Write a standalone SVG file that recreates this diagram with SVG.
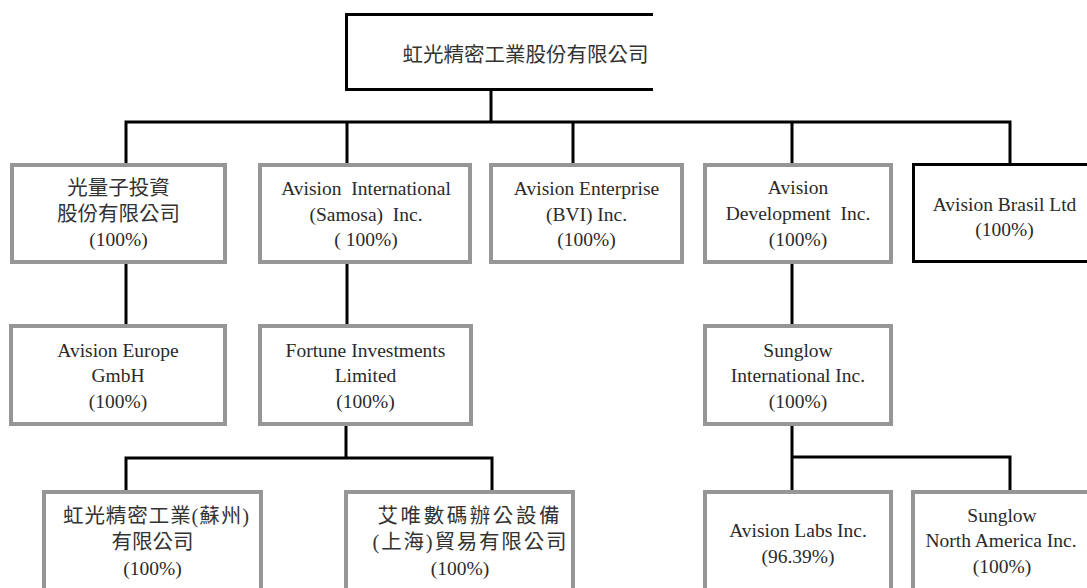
<svg xmlns="http://www.w3.org/2000/svg" width="1087" height="588" viewBox="0 0 1087 588">
<style>
.bg{fill:#ffffff}
.gbox{fill:#ffffff;stroke:#969696;stroke-width:4}
.kbox{fill:none;stroke:#000000;stroke-width:3}
.conn{fill:none;stroke:#000000;stroke-width:3}
text{font-family:"Liberation Serif","Noto Sans CJK TC",serif;font-size:19.5px;fill:#2a2a2a;text-anchor:middle}
.cjk{font-size:20.5px;fill:#333333}
</style>
<rect class="bg" x="0" y="0" width="1087" height="588"/>
<g id="connectors">
<path class="conn" d="M491,90 V122 M124.5,122 H1011.5 M126,122 V163 M347,122 V163 M573,122 V163 M792,122 V163 M1010,122 V163"/>
<path class="conn" d="M126,264 V324 M347,264 V324 M792,264 V324"/>
<path class="conn" d="M346,426 V458 M124.5,458 H493.5 M126,458 V490 M492,458 V490"/>
<path class="conn" d="M792,426 V457 M790.5,457 H1011.5 M792,457 V490 M1010,457 V490"/>
</g>
<g id="n-root">
<path class="kbox" d="M653,14.5 H346.5 V89.5 H653"/>
<text class="cjk" x="525.5" y="61.5">虹光精密工業股份有限公司</text>
</g>
<g id="n-quantum">
<rect class="gbox" x="12" y="165" width="213" height="97"/>
<text class="cjk" x="118.5" y="195">光量子投資</text>
<text class="cjk" x="118.5" y="221">股份有限公司</text>
<text x="118.5" y="246">(100%)</text>
</g>
<g id="n-samosa">
<rect class="gbox" x="260" y="165" width="210" height="97"/>
<text x="366" y="195" xml:space="preserve">Avision  International</text>
<text x="366" y="221" xml:space="preserve">(Samosa)  Inc.</text>
<text x="366" y="246">( 100%)</text>
</g>
<g id="n-bvi">
<rect class="gbox" x="491" y="165" width="191" height="97"/>
<text x="586.5" y="195">Avision Enterprise</text>
<text x="586.5" y="221">(BVI) Inc.</text>
<text x="586.5" y="246">(100%)</text>
</g>
<g id="n-development">
<rect class="gbox" x="705" y="165" width="186" height="97"/>
<text x="798" y="194">Avision</text>
<text x="798" y="220" xml:space="preserve">Development  Inc.</text>
<text x="798" y="246">(100%)</text>
</g>
<g id="n-brasil">
<path class="kbox" d="M1087,164.5 H913.5 V261.5 H1087"/>
<text x="1004.5" y="211">Avision Brasil Ltd</text>
<text x="1004.5" y="236">(100%)</text>
</g>
<g id="n-europe">
<rect class="gbox" x="11" y="326" width="214" height="98"/>
<text x="118" y="357">Avision Europe</text>
<text x="118" y="382">GmbH</text>
<text x="118" y="408">(100%)</text>
</g>
<g id="n-fortune">
<rect class="gbox" x="260" y="326" width="211" height="98"/>
<text x="365.5" y="357">Fortune Investments</text>
<text x="365.5" y="382">Limited</text>
<text x="365.5" y="408">(100%)</text>
</g>
<g id="n-sunglow-intl">
<rect class="gbox" x="705" y="326" width="186" height="98"/>
<text x="798" y="357">Sunglow</text>
<text x="798" y="382">International Inc.</text>
<text x="798" y="408">(100%)</text>
</g>
<g id="n-suzhou">
<rect class="gbox" x="44" y="492" width="217" height="120"/>
<text class="cjk" x="156" y="523" textLength="186" lengthAdjust="spacing">虹光精密工業(蘇州)</text>
<text class="cjk" x="152.5" y="549">有限公司</text>
<text x="152.5" y="575">(100%)</text>
</g>
<g id="n-shanghai">
<rect class="gbox" x="346" y="492" width="227" height="120"/>
<text class="cjk" x="468.5" y="523" textLength="182" lengthAdjust="spacing">艾唯數碼辦公設備</text>
<text class="cjk" x="469.5" y="549" textLength="194" lengthAdjust="spacing">(上海)貿易有限公司</text>
<text x="460" y="575">(100%)</text>
</g>
<g id="n-labs">
<rect class="gbox" x="705" y="492" width="186" height="120"/>
<text x="798" y="537">Avision Labs Inc.</text>
<text x="798" y="563">(96.39%)</text>
</g>
<g id="n-sunglow-na">
<rect class="gbox" x="913" y="492" width="200" height="120"/>
<text x="1002" y="522">Sunglow</text>
<text x="1001" y="547">North America Inc.</text>
<text x="1002" y="573">(100%)</text>
</g>
</svg>
